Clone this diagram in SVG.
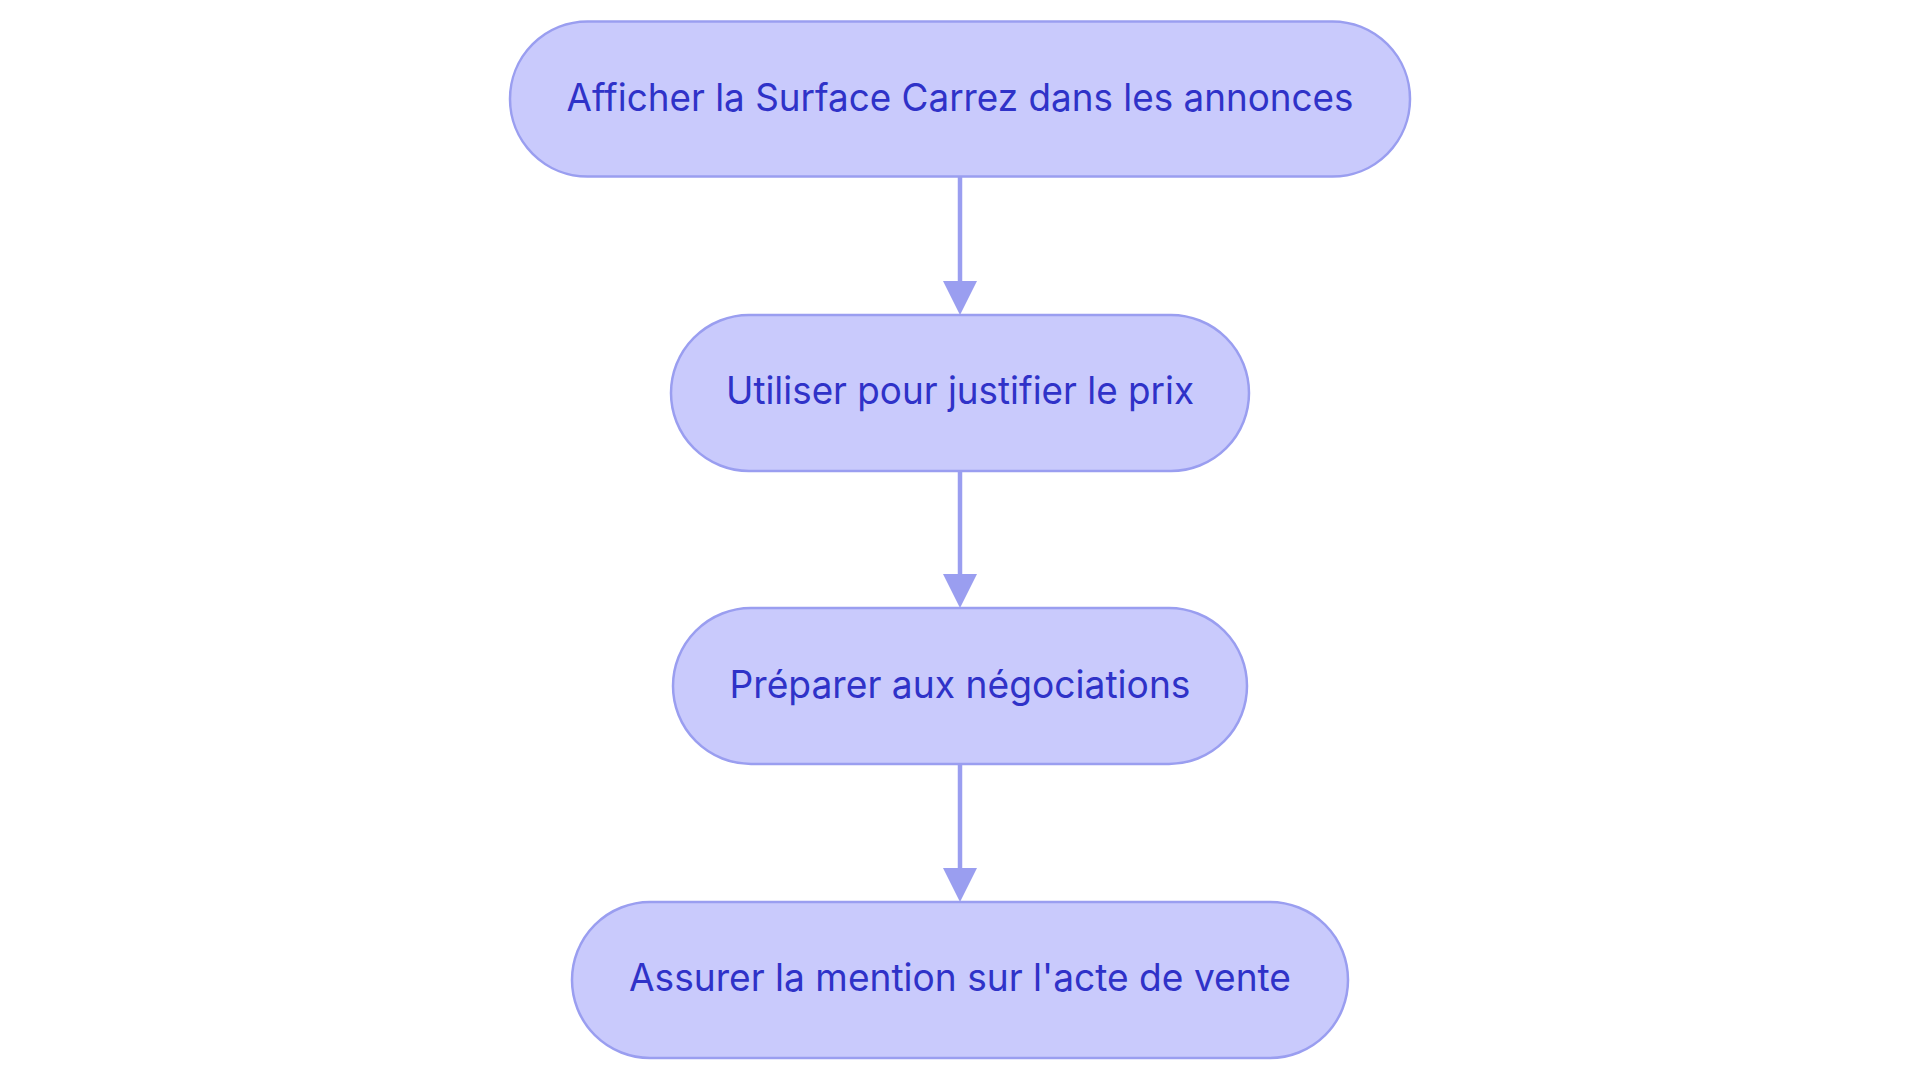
<svg xmlns="http://www.w3.org/2000/svg" width="1920" height="1083" viewBox="0 0 1920 1083">
<defs>
<style>
.node rect{fill:#c9cafc;stroke:#9a9ef0;stroke-width:2.5}
.node text{font-family:Inter,"Open Sans","Liberation Sans",sans-serif;font-size:38px;font-weight:400;fill:#2f32c8;text-anchor:middle}
.edge{stroke:#9a9ef0;stroke-width:4.5;fill:none}
.head{fill:#9a9ef0}
</style>
</defs>
<rect width="1920" height="1083" fill="#ffffff"/>
<g id="connectors">
<line class="edge" x1="960" y1="177" x2="960" y2="285"/>
<polygon class="head" points="943,281 977,281 960,315"/>
<line class="edge" x1="960" y1="471" x2="960" y2="578"/>
<polygon class="head" points="943,574 977,574 960,608"/>
<line class="edge" x1="960" y1="764" x2="960" y2="872"/>
<polygon class="head" points="943,868 977,868 960,902"/>
</g>
<g id="node1" class="node">
<rect x="510" y="21.5" width="900" height="155" rx="77.5" ry="77.5"/>
<text x="960" y="111" textLength="787" lengthAdjust="spacingAndGlyphs">Afficher la Surface Carrez dans les annonces</text>
</g>
<g id="node2" class="node">
<rect x="671" y="315" width="578" height="156" rx="78" ry="78"/>
<text x="960" y="404" textLength="468" lengthAdjust="spacingAndGlyphs">Utiliser pour justifier le prix</text>
</g>
<g id="node3" class="node">
<rect x="673" y="608" width="574" height="156" rx="78" ry="78"/>
<text x="960" y="698" textLength="461" lengthAdjust="spacingAndGlyphs">Préparer aux négociations</text>
</g>
<g id="node4" class="node">
<rect x="572" y="902" width="776" height="156" rx="78" ry="78"/>
<text x="960" y="991" textLength="662" lengthAdjust="spacingAndGlyphs">Assurer la mention sur l'acte de vente</text>
</g>
</svg>
